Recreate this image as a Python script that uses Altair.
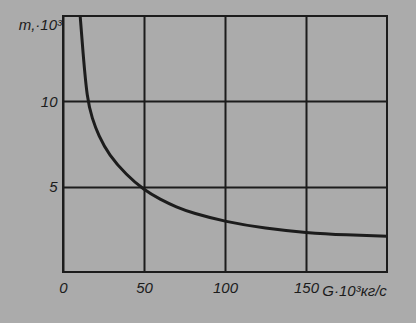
import altair as alt
import pandas as pd

G = [10.6, 12.3, 14.9, 18, 21.9, 28.4, 39, 50, 60, 70, 80, 100, 125, 150, 175, 200]
m = [15.0, 12.9, 10.1, 9.0, 8.0, 6.85, 5.7, 4.8, 4.25, 3.8, 3.45, 2.95, 2.55, 2.3, 2.17, 2.1]

x_ticks = [0, 50, 100, 150]
y_ticks = [5, 10]
x_unit = "G·10³кг/с"
y_unit = "m,·10³"

df = pd.DataFrame({"G": G, "m": m})
FONT = "Liberation Sans"
INK = "#1c1c1c"

xs = alt.Scale(domain=[0, 200], nice=False)
ys = alt.Scale(domain=[0, 15], nice=False)

curve = alt.Chart(df).mark_line(color=INK, strokeWidth=3, interpolate="basis").encode(
    x=alt.X("G:Q", scale=xs, axis=alt.Axis(
        values=x_ticks, title=None, grid=True, gridColor=INK, gridWidth=2,
        domain=False, ticks=False, labelFont=FONT, labelFontStyle="italic",
        labelFontSize=15, labelColor=INK, labelPadding=8, labelFlush=False)),
    y=alt.Y("m:Q", scale=ys, axis=alt.Axis(
        values=y_ticks, title=None, grid=True, gridColor=INK, gridWidth=2,
        domain=False, ticks=False, labelFont=FONT, labelFontStyle="italic",
        labelFontSize=15, labelColor=INK, labelPadding=6)),
)

xlab = alt.Chart(pd.DataFrame({"t": [x_unit]})).mark_text(
    font=FONT, fontStyle="italic", fontSize=15, color=INK, align="center", baseline="middle"
).encode(x=alt.datum(180, scale=xs), y=alt.datum(-1.1, scale=ys), text="t:N")

ylab = alt.Chart(pd.DataFrame({"t": [y_unit]})).mark_text(
    font=FONT, fontStyle="italic", fontSize=15, color=INK, align="center", baseline="middle"
).encode(x=alt.datum(-14, scale=xs), y=alt.datum(14.5, scale=ys), text="t:N")

chart = alt.layer(curve, xlab, ylab).properties(
    width=324, height=256,
    background="#ababab",
    padding={"left": 63, "top": 16, "right": 29, "bottom": 51},
    autosize=alt.AutoSizeParams(type="none"),
).configure_view(stroke=INK, strokeWidth=2)

chart.save("out.html", embed_options={"renderer": "svg", "actions": False})
